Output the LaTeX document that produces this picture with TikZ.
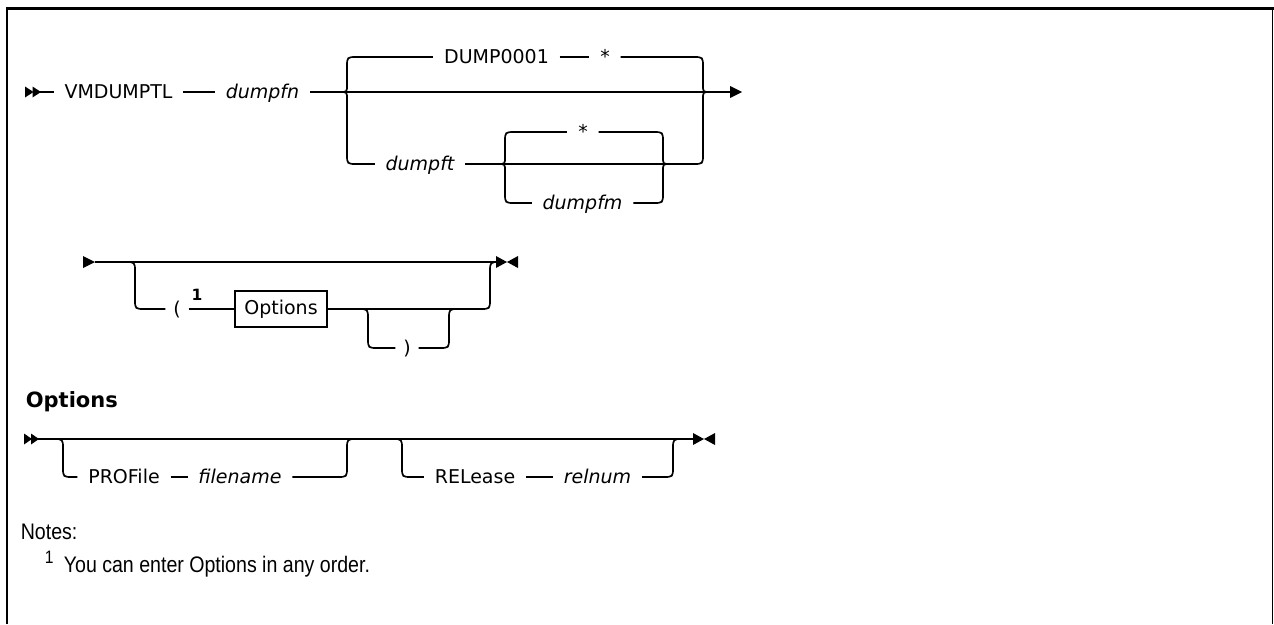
\documentclass[tikz,border=0pt]{standalone}
\usepackage{fontspec}
\setmainfont{DejaVu Sans}
\newfontfamily\notefont[FakeStretch=0.87]{Liberation Sans}
\usetikzlibrary{positioning}
\begin{document}
\begin{tikzpicture}[x=1pt,y=-1pt,line width=1.7pt,
  kw/.style={font=\fontsize{19}{23}\selectfont, inner xsep=10pt, inner ysep=0pt, text height=13.8pt, text depth=0pt},
  var/.style={kw, font=\fontsize{19}{23}\selectfont\itshape},
  par/.style={kw, inner xsep=7pt},
  supnum/.style={font=\bfseries\fontsize{15.5}{18}\selectfont, inner sep=0pt, anchor=base},
  optbox/.style={draw, line width=1.5pt, font=\fontsize{19}{23}\selectfont, minimum width=92pt, minimum height=36pt, inner sep=0pt},
  notestyle/.style={font=\notefont\fontsize{22.5}{27}\selectfont, inner sep=0pt, anchor=base west},
  head/.style={font=\bfseries\fontsize{21}{25}\selectfont, inner sep=0pt, anchor=base west},
  tip/.style={fill=black, draw=none}]
\useasboundingbox (0,0) rectangle (1274,624);
% frame
\draw[line width=2.5pt] (7,624) -- (7,8.3) -- (1274,8.3);
\draw[line width=1.3pt] (1272.5,8.3) -- (1272.5,624);

% ---------- Row 1 ----------
\fill[tip] (25,86.5) -- (33.5,92) -- (25,97.5) -- cycle;
\fill[tip] (32.5,86.5) -- (41,92) -- (32.5,97.5) -- cycle;
\coordinate (s1) at (40,92);
\node[kw] (vm) at (118.5,92) {VMDUMPTL};
\node[var] (fn) at (262.5,92) {dumpfn};
\coordinate (b1) at (340,92);
\coordinate (t1) at (357,57);
\coordinate (u1) at (357,164);
\coordinate (c1) at (710,92);
\coordinate (e1) at (730,92);
\draw (s1) -- (vm.west);
\draw (vm.east) -- (fn.west);
\draw (fn.east) -- (b1);
% outer left brace
\draw (t1) .. controls (347,57) .. (347,67) -- (347,85) .. controls (347,92) .. (b1);
\draw (b1) .. controls (347,92) .. (347,99) -- (347,154) .. controls (347,164) .. (u1);
% main line
\draw (b1) -- (e1);
\fill[tip] (730,86) -- (742,92) -- (730,98) -- cycle;
% top branch
\node[kw] (d1) at (496.5,57) {DUMP0001};
\node[kw] (st1) at (605,57) {*};
\draw (t1) -- (d1.west);
\draw (d1.east) -- (st1.west);
\draw (st1.east) -- (693,57) .. controls (703,57) .. (703,67) -- (703,85) .. controls (703,92) .. (c1);
\draw (c1) .. controls (703,92) .. (703,99) -- (703,154) .. controls (703,164) .. (693,164);
% bottom branch
\node[var] (ft) at (420,164) {dumpft};
\coordinate (b2) at (498,164);
\coordinate (c2) at (670,164);
\draw (u1) -- (ft.west);
\draw (ft.east) -- (b2);
\draw (b2) -- (c2) -- (693,164);
\coordinate (t2) at (515,132);
\coordinate (u2) at (515,203);
\draw (t2) .. controls (505,132) .. (505,142) -- (505,157) .. controls (505,164) .. (b2);
\draw (b2) .. controls (505,164) .. (505,171) -- (505,193) .. controls (505,203) .. (u2);
\node[kw] (st2) at (583,132) {*};
\node[var] (fm) at (582.5,203) {dumpfm};
\draw (t2) -- (st2.west);
\draw (st2.east) -- (653,132) .. controls (663,132) .. (663,142) -- (663,157) .. controls (663,164) .. (c2);
\draw (u2) -- (fm.west);
\draw (fm.east) -- (653,203) .. controls (663,203) .. (663,193) -- (663,171) .. controls (663,164) .. (c2);

% ---------- Row 2 ----------
\fill[tip] (83,256) -- (95,262) -- (83,268) -- cycle;
\coordinate (s2) at (95,262);
\coordinate (e2) at (496,262);
\draw (s2) -- (e2);
\node[par] (lp) at (177,309) {(};
\node[supnum] (n1) at (197,300) {1};
\node[optbox] (ob) at (281,309) {Options};
\node[par] (rp) at (407,348) {)};
\draw (125,262) .. controls (135,262) .. (135,272) -- (135,299) .. controls (135,309) .. (145,309) -- (lp.west);
\draw (lp.east) -- (ob.west);
\draw (ob.east) -- (480,309) .. controls (490,309) .. (490,299) -- (490,272) .. controls (490,262) .. (500,262);
\draw (358,309) .. controls (368,309) .. (368,319) -- (368,338) .. controls (368,348) .. (378,348) -- (rp.west);
\draw (rp.east) -- (439,348) .. controls (449,348) .. (449,338) -- (449,319) .. controls (449,309) .. (459,309);
\fill[tip] (496,256) -- (507,262) -- (496,268) -- cycle;
\fill[tip] (518,256) -- (507,262) -- (518,268) -- cycle;

% ---------- Options ----------
\node[head] (oh) at (25,407) {Options};
\fill[tip] (24,433.5) -- (32,439) -- (24,444.5) -- cycle;
\fill[tip] (31,433.5) -- (39,439) -- (31,444.5) -- cycle;
\coordinate (s3) at (38,439);
\coordinate (e3) at (693,439);
\draw (s3) -- (e3);
\node[kw] (pf) at (124,477) {PROFile};
\node[var, right=17pt of pf] (fnm) {filename};
\draw (53,439) .. controls (63,439) .. (63,449) -- (63,467) .. controls (63,477) .. (73,477) -- (pf.west);
\draw (pf.east) -- (fnm.west);
\draw (fnm.east) -- (337,477) .. controls (347,477) .. (347,467) -- (347,449) .. controls (347,439) .. (357,439);
\node[kw] (rl) at (475,477) {RELease};
\node[var] (rn) at (597.5,477) {relnum};
\draw (392,439) .. controls (402,439) .. (402,449) -- (402,467) .. controls (402,477) .. (412,477) -- (rl.west);
\draw (rl.east) -- (rn.west);
\draw (rn.east) -- (663,477) .. controls (673,477) .. (673,467) -- (673,449) .. controls (673,439) .. (683,439);
\fill[tip] (693,433) -- (704,439) -- (693,445) -- cycle;
\fill[tip] (715,433) -- (704,439) -- (715,445) -- cycle;

% ---------- Notes ----------
\node[notestyle] (notes) at (20,539) {Notes:};
\node[notestyle, font=\notefont\fontsize{18}{21}\selectfont] (ns) at (44,563) {1};
\node[notestyle] (note1) at (63,572) {You can enter Options in any order.};
\end{tikzpicture}
\end{document}
